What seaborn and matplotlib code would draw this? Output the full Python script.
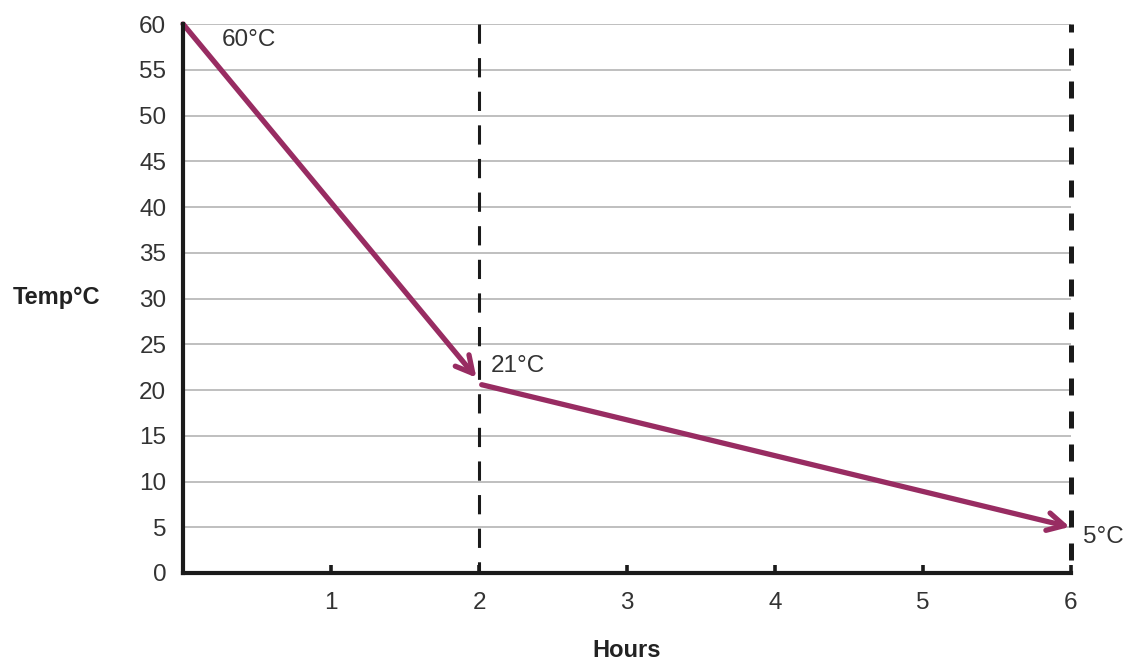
import matplotlib
matplotlib.use("Agg")
import matplotlib.pyplot as plt
import seaborn as sns

# chart values
hours = [0, 2, 6]
temps = [60, 21, 5]
point_labels = ["60°C", "21°C", "5°C"]
cutoff_hours = [2, 6]
x_ticks = [1, 2, 3, 4, 5, 6]
y_ticks = list(range(0, 61, 5))

sns.set_style("white")
plt.rcParams['font.family'] = ['Liberation Sans', 'DejaVu Sans']

fig = plt.figure(figsize=(11.27, 6.69), dpi=100)
ax = fig.add_axes([0.1624, 0.1435, 0.7879, 0.8206])

# horizontal grid lines
for t in y_ticks[1:]:
    ax.axhline(t, color="#b4b4b4", lw=1.2, zorder=1)

# dashed cut-off lines, drawn from the top down
ax.plot([cutoff_hours[0]] * 2, [y_ticks[-1], y_ticks[0]], color="#1a1a1a", lw=2.2,
        linestyle=(0, (6.3, 4.7)), zorder=2, clip_on=False)
ax.plot([cutoff_hours[1]] * 2, [y_ticks[-1], y_ticks[0]], color="#1a1a1a", lw=3.6,
        linestyle=(1.8, (3.4, 3.2)), zorder=2, clip_on=False)

# cooling arrows
arrow_col = "#982c62"
ax.annotate("", xy=(hours[1], temps[1]), xytext=(hours[0], temps[0]),
            arrowprops=dict(arrowstyle="->,head_length=0.6,head_width=0.32",
                            color=arrow_col, lw=3.8, shrinkA=0, shrinkB=3,
                            mutation_scale=20), zorder=4)
ax.annotate("", xy=(hours[2], temps[2]), xytext=(hours[1], temps[1] - 0.35),
            arrowprops=dict(arrowstyle="->,head_length=0.6,head_width=0.32",
                            color=arrow_col, lw=3.8, shrinkA=2, shrinkB=1,
                            mutation_scale=20), zorder=4)

# point labels
fs = 17.5
ax.text(hours[0] + 0.26, temps[0] - 1.8, point_labels[0], fontsize=fs,
        color="#333333", ha="left", va="center")
ax.text(hours[1] + 0.08, temps[1] + 1.6, point_labels[1], fontsize=fs,
        color="#333333", ha="left", va="center")
ax.text(hours[2] + 0.08, temps[2] - 1.1, point_labels[2], fontsize=fs,
        color="#333333", ha="left", va="center", clip_on=False)

ax.set_xlim(0, 6)
ax.set_ylim(0, 60)
ax.set_xticks(x_ticks)
ax.set_yticks(y_ticks)
ax.tick_params(axis="x", bottom=True, direction="in", length=6, width=2.6,
               color="#1a1a1a", pad=14, labelsize=fs, labelcolor="#333333")
ax.tick_params(axis="y", left=False, length=0, pad=12, labelsize=fs,
               labelcolor="#333333")

sns.despine(ax=ax, top=True, right=True)
for side in ["left", "bottom"]:
    ax.spines[side].set_linewidth(3)
    ax.spines[side].set_color("#1a1a1a")
    ax.spines[side].set_zorder(5)

ax.set_xlabel("Hours", fontsize=17, fontweight="bold", color="#222222", labelpad=18)
ax.set_ylabel("Temp°C", fontsize=17, fontweight="bold", color="#222222",
              rotation=0, ha="center", va="center")
ax.yaxis.set_label_coords(-0.143, 0.501)

fig.savefig("out.png", dpi=100)
